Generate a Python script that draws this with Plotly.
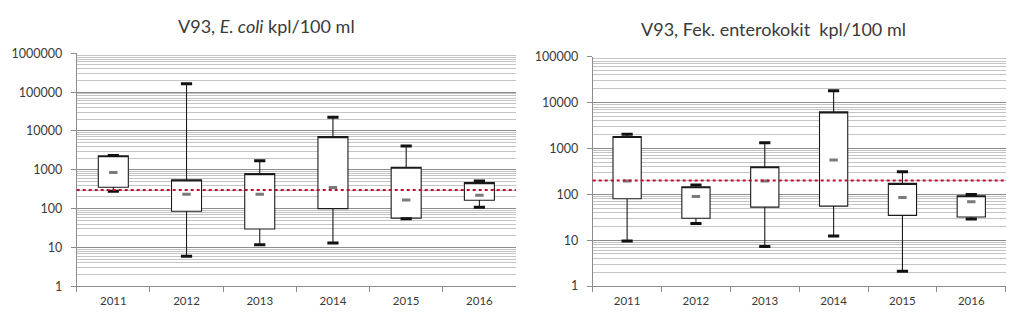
import plotly.graph_objects as go

years = ["2011", "2012", "2013", "2014", "2015", "2016"]

# E. coli (kpl/100 ml)
ecoli_min = [281, 5.9, 11.8, 13.1, 55, 109]
ecoli_q1 = [356, 86, 30, 100, 57, 165]
ecoli_median = [850, 235, 235, 348, 168, 221]
ecoli_q3 = [2300, 549, 798, 7170, 1167, 468]
ecoli_max = [2330, 163700, 1700, 22700, 4130, 517]
ecoli_limit = 300

# Fek. enterokokit (kpl/100 ml)
entero_min = [9.6, 23, 7.3, 12.3, 2.1, 28.8]
entero_q1 = [80, 30, 52.6, 55.3, 34.7, 31.9]
entero_median = [194, 90, 194, 556, 85.6, 68.7]
entero_q3 = [1825, 146, 397, 6270, 173, 92.7]
entero_max = [2048, 159, 1324, 18000, 309, 99.5]
entero_limit = 200

ecoli_ticks = [1, 10, 100, 1000, 10000, 100000, 1000000]
entero_ticks = [1, 10, 100, 1000, 10000, 100000]

FONT = "Lato"
TXT = "#3a3a3a"
MAJOR = "#8c8c8c"
MINOR = "#c4c4c4"

fig = go.Figure()


def add_panel(xa, ya, lo, q1, med, q3, hi, limit):
    fig.add_trace(go.Candlestick(
        x=years, open=q1, high=hi, low=lo, close=q3,
        xaxis=xa, yaxis=ya, whiskerwidth=0,
        increasing=dict(fillcolor="white", line=dict(color="#1a1a1a", width=1.1)),
        decreasing=dict(fillcolor="white", line=dict(color="#1a1a1a", width=1.1)),
        showlegend=False, hoverinfo="skip"))
    fig.add_trace(go.Scatter(
        x=years + years, y=hi + lo, mode="markers", xaxis=xa, yaxis=ya,
        marker=dict(symbol="line-ew", size=8, line=dict(color="#111111", width=3)),
        showlegend=False, hoverinfo="skip"))
    fig.add_trace(go.Scatter(
        x=years, y=med, mode="markers", xaxis=xa, yaxis=ya,
        marker=dict(symbol="line-ew", size=6, line=dict(color="#7a7a7a", width=3)),
        showlegend=False, hoverinfo="skip"))
    fig.add_shape(type="line", xref=f"{xa} domain", yref=ya, x0=0, x1=1,
                  y0=limit, y1=limit,
                  line=dict(color="#b8102e", width=2, dash="dot"))


add_panel("x", "y", ecoli_min, ecoli_q1, ecoli_median, ecoli_q3, ecoli_max, ecoli_limit)
add_panel("x2", "y2", entero_min, entero_q1, entero_median, entero_q3, entero_max, entero_limit)

W, H = 1022, 320


def xaxis_cfg(x0, x1):
    return dict(
        type="category", domain=[x0 / W, x1 / W], rangeslider=dict(visible=False),
        showgrid=False, showline=True, linecolor=MAJOR, linewidth=1,
        ticks="outside", ticklen=5, tickcolor=MAJOR, tickson="boundaries",
        ticklabelstandoff=4,
        tickfont=dict(family=FONT, size=11.5, color=TXT), zeroline=False,
        automargin=False, fixedrange=True)


def yaxis_cfg(ytop, ybot, ndec, ticks, anchor):
    return dict(
        type="log", domain=[(H - ybot) / H, (H - ytop) / H], range=[0, ndec],
        tickvals=ticks, ticktext=[str(t) for t in ticks],
        showgrid=True, gridcolor=MAJOR, gridwidth=1,
        minor=dict(dtick="D1", showgrid=True, gridcolor=MINOR, gridwidth=1, ticks=""),
        showline=True, linecolor=MAJOR, linewidth=1,
        ticks="outside", ticklen=5, tickcolor=MAJOR, ticklabelstandoff=6,
        tickfont=dict(family=FONT, size=12.5, color=TXT), zeroline=False,
        automargin=False, anchor=anchor, fixedrange=True)


fig.update_layout(
    width=W, height=H, margin=dict(l=0, r=0, t=0, b=0, autoexpand=False),
    paper_bgcolor="white", plot_bgcolor="white",
    boxgap=0.59, boxgroupgap=0, showlegend=False,
    xaxis=xaxis_cfg(76.7, 516.0) | dict(anchor="y"),
    yaxis=yaxis_cfg(53.3, 286.3, 6, ecoli_ticks, "x"),
    xaxis2=xaxis_cfg(592.7, 1005.7) | dict(anchor="y2"),
    yaxis2=yaxis_cfg(56.7, 286.0, 5, entero_ticks, "x2"),
)

fig.add_annotation(text="V93, <i>E. coli</i> kpl/100 ml", xref="paper", yref="paper",
                   x=266 / W, y=(H - 26) / H, xanchor="center", yanchor="middle",
                   showarrow=False, font=dict(family=FONT, size=18, color=TXT))
fig.add_annotation(text="V93, Fek. enterokokit  kpl/100 ml", xref="paper", yref="paper",
                   x=773 / W, y=(H - 29) / H, xanchor="center", yanchor="middle",
                   showarrow=False, font=dict(family=FONT, size=18, color=TXT))

fig.write_html("out.html")
